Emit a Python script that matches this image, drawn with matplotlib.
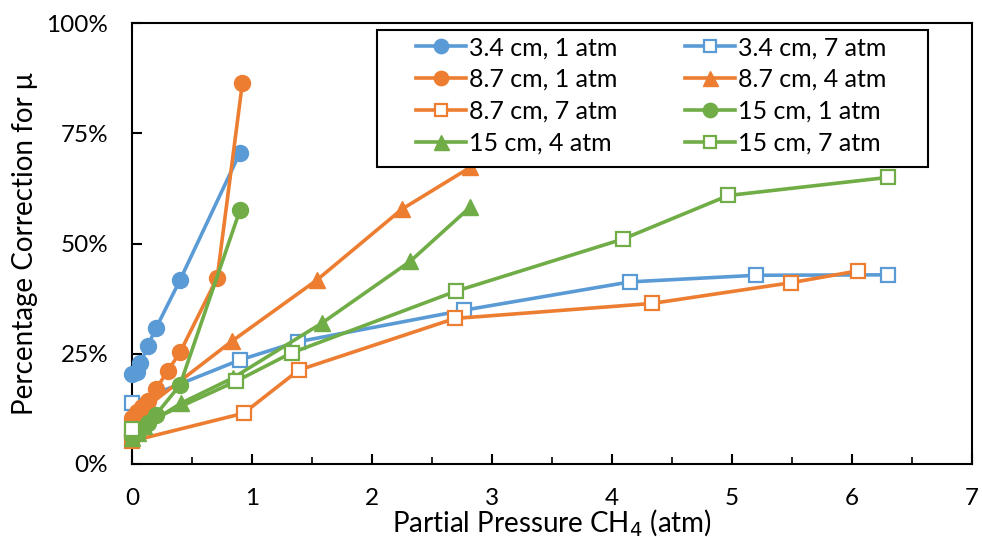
import matplotlib
matplotlib.use("Agg")
import matplotlib.pyplot as plt
from matplotlib.patches import Rectangle
from matplotlib.ticker import MultipleLocator, PercentFormatter

plt.rcParams['font.family'] = ['Lato', 'DejaVu Sans']

BLUE = "#5B9BD5"
ORANGE = "#ED7D31"
GREEN = "#70AD47"

# ------------------------------------------------------------------
# datos (presion parcial CH4 [atm], correccion [%])
# ------------------------------------------------------------------
x_34_1 = [0.0, 0.04, 0.07, 0.13, 0.2, 0.4, 0.9]
y_34_1 = [20.5, 20.8, 22.8, 26.7, 30.8, 41.7, 70.6]

x_34_7 = [0.0, 0.9, 1.38, 2.77, 4.15, 5.2, 6.3]
y_34_7 = [13.8, 23.6, 27.7, 34.9, 41.3, 42.8, 42.9]

x_87_1 = [0.0, 0.04, 0.08, 0.13, 0.2, 0.3, 0.4, 0.71, 0.92]
y_87_1 = [10.5, 11.8, 13.0, 14.2, 17.0, 21.2, 25.3, 42.2, 86.4]

x_87_4 = [0.0, 0.05, 0.1, 0.83, 1.54, 2.25, 2.82]
y_87_4 = [10.5, 11.5, 12.5, 27.8, 41.7, 57.8, 67.3]

x_87_7 = [0.0, 0.93, 1.39, 2.69, 4.33, 5.49, 6.05]
y_87_7 = [5.2, 11.5, 21.3, 33.0, 36.4, 41.1, 43.8]

x_15_1 = [0.0, 0.05, 0.13, 0.2, 0.4, 0.9]
y_15_1 = [6.3, 7.2, 9.3, 11.2, 17.9, 57.6]

x_15_4 = [0.0, 0.05, 0.1, 0.41, 0.84, 1.58, 2.32, 2.82]
y_15_4 = [6.0, 7.0, 8.5, 13.8, 19.5, 31.9, 46.0, 58.3]

x_15_7 = [0.0, 0.87, 1.33, 2.7, 4.09, 4.97, 6.3]
y_15_7 = [8.0, 18.8, 25.2, 39.2, 51.0, 60.9, 65.0]

labels = ["3.4 cm, 1 atm", "3.4 cm, 7 atm", "8.7 cm, 1 atm", "8.7 cm, 4 atm",
          "8.7 cm, 7 atm", "15 cm, 1 atm", "15 cm, 4 atm", "15 cm, 7 atm"]

series = [
    (x_34_1, y_34_1, BLUE, "o"),
    (x_34_7, y_34_7, BLUE, "s"),
    (x_87_1, y_87_1, ORANGE, "o"),
    (x_87_4, y_87_4, ORANGE, "^"),
    (x_87_7, y_87_7, ORANGE, "s"),
    (x_15_1, y_15_1, GREEN, "o"),
    (x_15_4, y_15_4, GREEN, "^"),
    (x_15_7, y_15_7, GREEN, "s"),
]

fig = plt.figure(figsize=(9.82, 5.37), dpi=100)
ax = fig.add_axes([0.1344, 0.136, 0.8554, 0.821])

handles = []
for (xs, ys, c, m), lab in zip(series, labels):
    if m == "s":
        h, = ax.plot(xs, ys, "-", color=c, lw=2.6, marker=m, ms=10,
                     mfc="white", mec=c, mew=1.6, label=lab, clip_on=False,
                     zorder=3)
    elif m == "^":
        h, = ax.plot(xs, ys, "-", color=c, lw=2.6, marker=m, ms=12,
                     mfc=c, mec=c, label=lab, clip_on=False, zorder=3)
    else:
        h, = ax.plot(xs, ys, "-", color=c, lw=2.6, marker=m, ms=11.5,
                     mfc=c, mec=c, label=lab, clip_on=False, zorder=3)
    handles.append(h)

ax.set_xlim(0, 7)
ax.set_ylim(0, 100)
ax.xaxis.set_major_locator(MultipleLocator(1))
ax.xaxis.set_minor_locator(MultipleLocator(0.5))
ax.yaxis.set_major_locator(MultipleLocator(25))
ax.yaxis.set_major_formatter(PercentFormatter(decimals=0))
ax.tick_params(axis="both", which="major", direction="in", length=7,
               width=1.5, labelsize=17.5)
ax.tick_params(axis="x", which="major", pad=17)
ax.tick_params(axis="y", which="major", pad=17)
ax.tick_params(axis="x", which="minor", direction="in", length=5, width=1.2)
for s in ax.spines.values():
    s.set_linewidth(1.5)

ax.set_xlabel("Partial Pressure CH$_4$ (atm)", fontsize=20, labelpad=-1)
ax.set_ylabel("Percentage Correction for μ", fontsize=20, labelpad=6)

# caja de la leyenda (dibujada aparte para copiar el margen de Excel)
box = Rectangle((0.2917, 0.673), 0.656, 0.311, transform=ax.transAxes,
                facecolor="white", edgecolor="black", lw=1.5, zorder=5)
ax.add_patch(box)

# leyenda estilo Excel: llenado por filas -> reordenar a columnas
order = [0, 2, 4, 6, 1, 3, 5, 7]
leg = ax.legend([handles[i] for i in order], [labels[i] for i in order],
                ncol=2, loc="upper left", bbox_to_anchor=(0.338, 0.9705),
                fontsize=18, frameon=False, handlelength=2.0,
                handletextpad=0.12, labelspacing=0.35, borderpad=0,
                columnspacing=2.7, borderaxespad=0, markerscale=0.9)
leg.set_zorder(6)

fig.savefig("out.png", dpi=100)
